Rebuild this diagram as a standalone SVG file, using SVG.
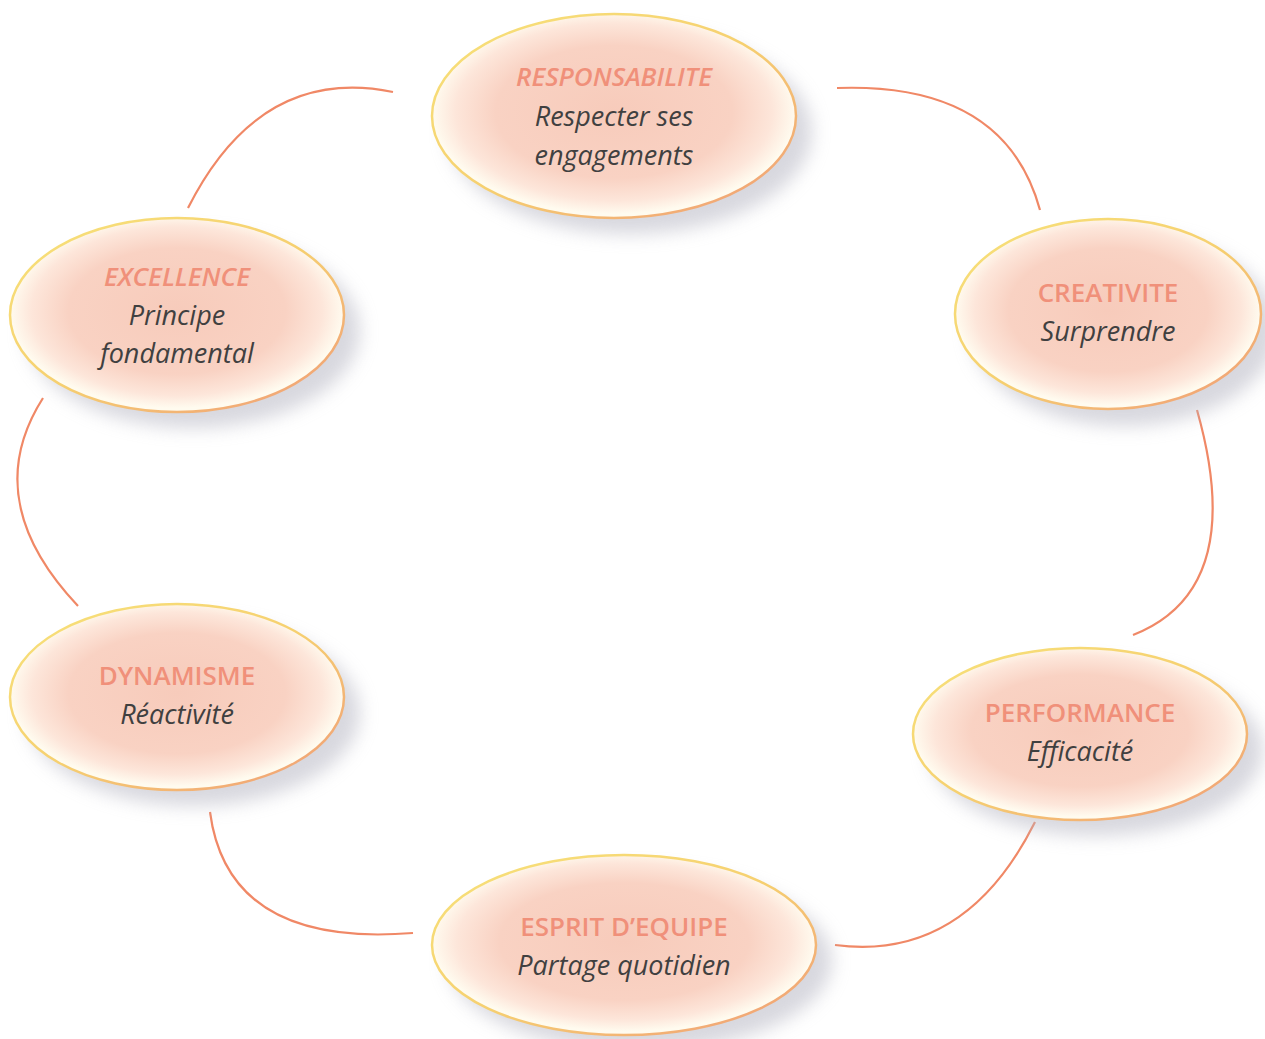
<svg xmlns="http://www.w3.org/2000/svg" width="1265" height="1039" viewBox="0 0 1265 1039">
<defs>
<radialGradient id="fillG" cx="50%" cy="48%" r="50%">
<stop offset="0" stop-color="#f7cbbb"/>
<stop offset="0.65" stop-color="#f9d2c3"/>
<stop offset="0.87" stop-color="#fde6da"/>
<stop offset="1" stop-color="#fffbef"/>
</radialGradient>
<linearGradient id="strokeG" x1="0" y1="0" x2="1" y2="1">
<stop offset="0" stop-color="#f7e27a"/>
<stop offset="0.5" stop-color="#f6d070"/>
<stop offset="1" stop-color="#f09a78"/>
</linearGradient>
<filter id="sh" x="-20%" y="-20%" width="150%" height="150%">
<feGaussianBlur stdDeviation="9"/>
</filter>
</defs>
<style>
.shadow{fill:#b8b8c4;opacity:0.55;filter:url(#sh)}
.ell{fill:url(#fillG);stroke:url(#strokeG);stroke-width:2.5}
.t{font-family:"Open Sans",Lato,sans-serif;font-size:26px;font-weight:600;fill:#f0907a;text-anchor:middle}
.ti{font-style:italic}
.s{font-family:"Open Sans",Lato,sans-serif;font-size:27px;font-style:italic;fill:#404040;text-anchor:middle}
.c{fill:none;stroke:#f08866;stroke-width:2.2}
</style>
<rect width="1265" height="1039" fill="#ffffff"/>
<g id="connectors">
<path class="c" d="M393,92 Q260,65 188,208"/>
<path class="c" d="M837,88 Q1005,82 1040,210"/>
<path class="c" d="M1197,410 Q1248,590 1133,635"/>
<path class="c" d="M1035,822 Q965,962 835,945"/>
<path class="c" d="M413,933 Q228,948 210,812"/>
<path class="c" d="M78,606 Q-22,500 43,398"/>
</g>
<g id="responsabilite">
<ellipse class="shadow" cx="630" cy="132" rx="182" ry="102"/>
<ellipse class="ell" cx="614" cy="116" rx="182" ry="102"/>
<text class="t ti" x="614" y="86">RESPONSABILITE</text>
<text class="s" x="614" y="126">Respecter ses</text>
<text class="s" x="614" y="165">engagements</text>
</g>
<g id="creativite">
<ellipse class="shadow" cx="1124" cy="330" rx="153" ry="96"/>
<ellipse class="ell" cx="1108" cy="314" rx="153" ry="95"/>
<text class="t" x="1108" y="302">CREATIVITE</text>
<text class="s" x="1108" y="341">Surprendre</text>
</g>
<g id="performance">
<ellipse class="shadow" cx="1096" cy="750" rx="167" ry="86"/>
<ellipse class="ell" cx="1080" cy="734" rx="167" ry="86"/>
<text class="t" x="1080" y="722">PERFORMANCE</text>
<text class="s" x="1080" y="761">Efficacité</text>
</g>
<g id="esprit">
<ellipse class="shadow" cx="640" cy="961" rx="192" ry="90"/>
<ellipse class="ell" cx="624" cy="945" rx="192" ry="90"/>
<text class="t" x="624" y="936">ESPRIT D’EQUIPE</text>
<text class="s" x="624" y="975">Partage quotidien</text>
</g>
<g id="dynamisme">
<ellipse class="shadow" cx="193" cy="713" rx="167" ry="93"/>
<ellipse class="ell" cx="177" cy="697" rx="167" ry="93"/>
<text class="t" x="177" y="685">DYNAMISME</text>
<text class="s" x="177" y="724">Réactivité</text>
</g>
<g id="excellence">
<ellipse class="shadow" cx="193" cy="331" rx="167" ry="97"/>
<ellipse class="ell" cx="177" cy="315" rx="167" ry="97"/>
<text class="t ti" x="177" y="286">EXCELLENCE</text>
<text class="s" x="177" y="325">Principe</text>
<text class="s" x="177" y="363">fondamental</text>
</g>
</svg>
